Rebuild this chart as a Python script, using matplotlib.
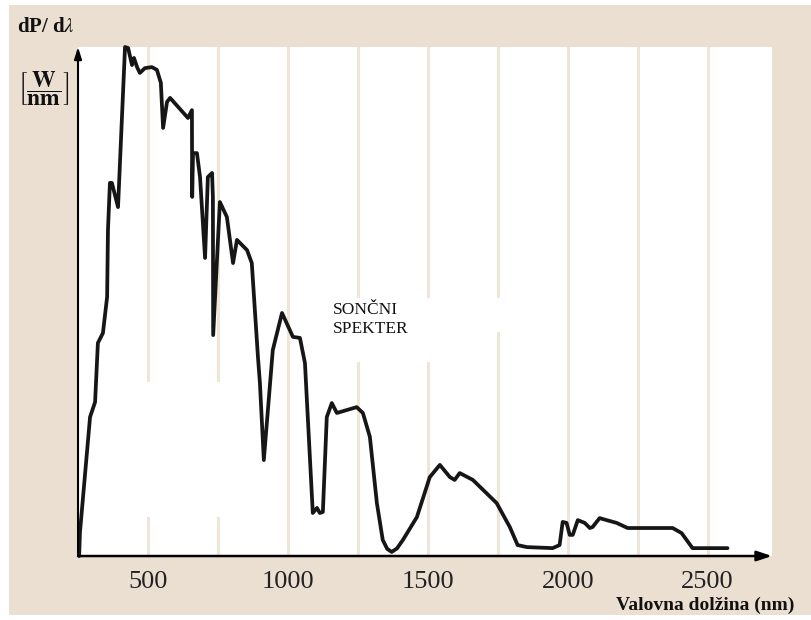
import numpy as np
import matplotlib.pyplot as plt
from matplotlib.patches import Rectangle

# solar spectrum (relative units, peak ~2)
wavelength = [254, 257, 293, 311, 321, 339, 354, 357, 364, 371, 393, 418, 429, 443, 450,
              461, 471, 489, 514, 532, 546, 554, 568, 579, 643, 657, 658, 661, 675, 686,
              704, 714, 729, 732, 733, 746, 757, 782, 804, 818, 854, 871, 893, 900, 914,
              946, 979, 1018, 1043, 1061, 1089, 1104, 1114, 1125, 1139, 1157, 1175, 1246,
              1268, 1293, 1318, 1339, 1355, 1371, 1390, 1411, 1461, 1507, 1543, 1579, 1596,
              1614, 1661, 1746, 1793, 1821, 1854, 1946, 1971, 1982, 1996, 2007, 2018, 2036,
              2061, 2079, 2089, 2114, 2139, 2175, 2214, 2375, 2407, 2446, 2571]
power = [0.0, 0.094, 0.546, 0.605, 0.837, 0.876, 1.018, 1.281, 1.466, 1.466, 1.371, 2.0,
         1.996, 1.929, 1.957, 1.921, 1.898, 1.917, 1.921, 1.910, 1.859, 1.682, 1.784, 1.800,
         1.721, 1.752, 1.411, 1.583, 1.583, 1.489, 1.171, 1.489, 1.505, 1.411, 0.868, 1.151,
         1.391, 1.332, 1.151, 1.242, 1.202, 1.151, 0.782, 0.680, 0.377, 0.809, 0.955, 0.861,
         0.857, 0.758, 0.169, 0.189, 0.169, 0.173, 0.546, 0.601, 0.562, 0.585, 0.562, 0.468,
         0.208, 0.063, 0.028, 0.016, 0.030, 0.063, 0.153, 0.310, 0.358, 0.310, 0.299, 0.326,
         0.299, 0.208, 0.114, 0.043, 0.035, 0.031, 0.043, 0.134, 0.130, 0.083, 0.083, 0.141,
         0.130, 0.110, 0.114, 0.149, 0.141, 0.130, 0.110, 0.110, 0.090, 0.031, 0.031]

xticks = [500, 1000, 1500, 2000, 2500]
gridlines = [500, 750, 1000, 1250, 1500, 1750, 2000, 2250, 2500]

plt.rcParams['font.family'] = ['Liberation Serif', 'DejaVu Serif']
plt.rcParams['mathtext.fontset'] = 'stix'

beige = '#ebdfd2'
fig = plt.figure(figsize=(8.11, 6.2), dpi=100)
fig.patches.append(Rectangle((0.011, 0.008), 0.989, 0.984, transform=fig.transFigure,
                             facecolor=beige, edgecolor='none', zorder=-10))

ax = fig.add_axes([0.0962, 0.1032, 0.8557, 0.821])
ax.set_facecolor('white')
ax.set_xlim(250, 2730)
ax.set_ylim(0, 2.0)

for g in gridlines:
    ax.axvline(g, color='#efe6da', lw=2.2, zorder=0)

# white patches where the original has the grid erased
ax.add_patch(Rectangle((471, 0.153), 304, 0.531, facecolor='white', edgecolor='none', zorder=1))
ax.add_patch(Rectangle((1150, 0.880), 650, 0.134, facecolor='white', edgecolor='none', zorder=1))
ax.add_patch(Rectangle((1150, 0.762), 410, 0.118, facecolor='white', edgecolor='none', zorder=1))

ax.plot(wavelength, power, color='#161616', lw=2.7, solid_joinstyle='round',
        solid_capstyle='round', clip_on=False, zorder=3)

for s in ax.spines.values():
    s.set_visible(False)
ax.annotate('', xy=(1.0, 0), xytext=(0, 0), xycoords='axes fraction',
            arrowprops=dict(arrowstyle='-|>,head_length=0.9,head_width=0.3', color='black',
                            lw=1.8, shrinkA=0, shrinkB=0), zorder=4)
ax.annotate('', xy=(0, 1.0), xytext=(0, 0), xycoords='axes fraction',
            arrowprops=dict(arrowstyle='-|>,head_length=0.7,head_width=0.22', color='black',
                            lw=1.5, shrinkA=0, shrinkB=0), zorder=4)

ax.set_yticks([])
ax.set_xticks(xticks)
ax.tick_params(axis='x', length=0, pad=11, labelsize=19, labelcolor='#222222')

ax.text(1160, 0.93, 'SONČNI\nSPEKTER', fontsize=12.5, va='center', ha='left',
        linespacing=1.3, color='#111111', zorder=5)

fig.text(0.98, 0.023, 'Valovna dolžina (nm)', fontsize=14, fontweight='bold', ha='right',
         va='center', color='#111111')
fig.text(0.021, 0.956, r'dP/ d$\lambda$', fontsize=15, fontweight='bold',
         ha='left', va='center', color='#111111')
fig.text(0.054, 0.857, r'$\left[\dfrac{\mathbf{W}}{\mathbf{nm}}\right]$', fontsize=17,
         ha='center', va='center', color='#111111')

fig.savefig('out.png', dpi=100)
